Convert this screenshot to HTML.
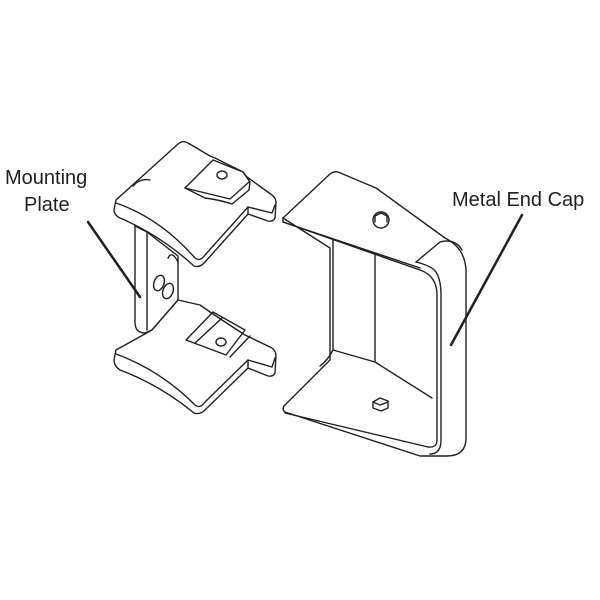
<!DOCTYPE html>
<html><head><style>
html,body{margin:0;padding:0;background:#fff;}
svg{display:block}
text{font-family:"Liberation Sans",sans-serif;font-size:20px;fill:#231f20}
</style></head><body>
<svg width="600" height="600" viewBox="0 0 600 600" xmlns="http://www.w3.org/2000/svg">
<g fill="none" stroke="#231f20" stroke-width="1.4" stroke-linejoin="round" stroke-linecap="round">
<!-- vertical rib -->
<path d="M135,226 L135,322 Q135,333 145,333 L152,330" fill="#fff"/>
<path d="M135,226 L147,232 L147,330"/>
<path d="M147,232 L178,256 L178,300 L152,330"/>
<ellipse cx="159" cy="283" rx="5" ry="8" transform="rotate(20 159 283)"/>
<ellipse cx="168" cy="291" rx="5" ry="8" transform="rotate(20 168 291)"/>
<path d="M168,258 Q172,250 178,262"/>
<!-- top plate -->
<path d="M116,200 L178,144 Q183,140 188,143 L210,156 L215,158 L243,172 L247,177 L272,195 Q276,198 276,203 L275,218 Q273,222 268,221 L248,214 L205,262 Q200,268 194,266 Q160,235 120,218 Q114,215 114,210 Z" fill="#fff"/>
<path d="M116,203 Q160,218 195,258 Q200,262 205,255 L248,207 L272,213 L275,205"/>
<path d="M248,207 L248,214"/>
<path d="M133,186 Q140,178 150,180"/>
<path d="M185,188 L213,160 L243,172 L250,182 L249,190 L232,204 Q220,200 205,198 Z" fill="#fff"/>
<path d="M185,188 L230,199 L249,182"/>
<ellipse cx="222" cy="175" rx="5" ry="4"/>
<!-- bottom plate -->
<path d="M116,350 L152,330 L178,300 L200,305 L210,312 L225,322 L245,335 L272,348 Q276,351 276,356 L275,373 Q273,377 268,376 L248,368 L205,410 Q200,415 194,413 Q160,385 120,370 Q114,366 114,360 Z" fill="#fff"/>
<path d="M116,354 Q160,370 195,405 Q200,409 205,402 L248,360 L272,367 L275,358"/>
<path d="M248,360 L248,368"/>
<path d="M186,340 L213,312 L245,330 L226,355 Z"/>
<path d="M195,343 L222,318"/>
<ellipse cx="221" cy="342" rx="5" ry="4"/>
<path d="M230,357 L250,336"/>
<!-- end cap -->
<path d="M283,218 L330,174 Q334,171 338,172 L376,188 L445,238 Q465,248 466,270 L466,438 Q466,456 447,456 L420,456 L285,412 Q282,410 284,406 L330,360 L330,248 Z" fill="#fff"/>
<path d="M283,218 L283,222 L420,270 Q437,276 437,295 L437,440 Q437,448 428,447 L285,413"/>
<path d="M283,222 L420,268"/>
<path d="M416,262 Q432,266 436,272 Q441,280 441,295 L441,440 Q441,454 430,454"/>
<path d="M416,262 L440,242 Q455,238 462,250"/>
<path d="M333,240 L333,350 L375,362 L432,398"/>
<path d="M375,254 L375,362"/>
<path d="M333,350 Q328,360 320,366"/>
<circle cx="381" cy="220" r="8"/>
<path d="M375,222 L375,216 L381,213 L387,216 L387,222"/>
<path d="M373,408 L373,402 L380,398 L388,401 L388,408 L381,411 Z"/>
<path d="M373,402 L380,405 L388,402"/>
<!-- leaders -->
<path d="M88,222 L140,297" stroke-width="2.5"/>
<path d="M522,215 L451,345" stroke-width="2.5"/>
</g>
<text x="5" y="184">Mounting</text>
<text x="24" y="211">Plate</text>
<text x="452" y="206">Metal End Cap</text>
</svg>
</body></html>
